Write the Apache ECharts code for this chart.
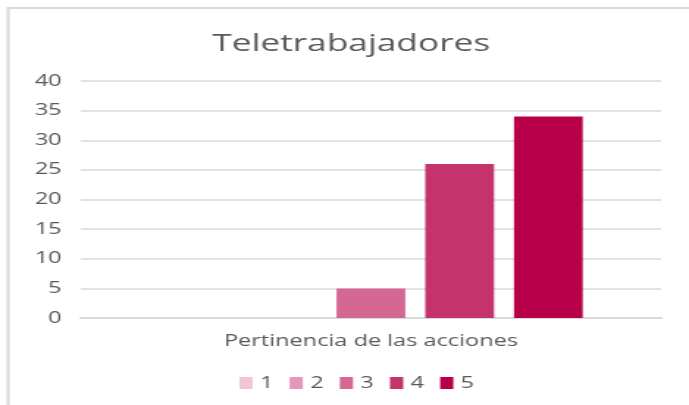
<!DOCTYPE html>
<html>
<head>
<meta charset="utf-8">
<script src="https://cdn.jsdelivr.net/npm/echarts@6/dist/echarts.min.js"></script>
<style>
  html, body { margin: 0; padding: 0; background: #fff; overflow: hidden; }
  /* The chart is laid out on a narrower canvas and widened to fill the page */
  #chart {
    width: 469px;
    height: 405px;
    transform: scaleX(1.469);
    transform-origin: 0 0;
  }
</style>
</head>
<body>
<div id="chart"></div>
<script>
// Survey answers (scale 1-5) for a single question
const categories = ['Pertinencia de las acciones'];
const seriesNames = ['1', '2', '3', '4', '5'];
const seriesValues = [0, 0, 5, 26, 34];
const seriesColors = ['#f0c6d7', '#e298b8', '#d56893', '#c4336c', '#b8004a'];
const yTicks = { min: 0, max: 40, interval: 5 };

const chart = echarts.init(document.getElementById('chart'), null, { renderer: 'canvas' });
const textColor = '#595959';
const fontFamily = '"Open Sans", "Noto Sans", sans-serif';

const series = seriesNames.map((name, i) => ({
  name: name,
  type: 'bar',
  data: [seriesValues[i]],
  barGap: '29%',
  barCategoryGap: '27%',
  itemStyle: { color: seriesColors[i] }
}));

chart.setOption({
  animation: false,
  backgroundColor: '#ffffff',
  graphic: [{
    type: 'rect',
    shape: { x: 5.5, y: 8, width: 500, height: 420 },
    style: { fill: 'none', stroke: '#d9d9d9', lineWidth: 2 },
    silent: true
  }],
  title: {
    text: 'Teletrabajadores',
    left: 139.5,
    top: 27,
    textStyle: { color: textColor, fontSize: 24, fontWeight: 'normal', fontFamily: fontFamily }
  },
  legend: {
    top: 370,
    left: 158,
    itemWidth: 9,
    itemHeight: 12,
    itemGap: 11,
    icon: 'rect',
    textStyle: { color: textColor, fontSize: 16, fontFamily: fontFamily },
    data: seriesNames
  },
  grid: { left: 55, right: 19, top: 81, bottom: 87 },
  xAxis: {
    type: 'category',
    data: categories,
    axisLine: { lineStyle: { color: '#d9d9d9', width: 2 } },
    axisTick: { show: false },
    axisLabel: { color: textColor, fontSize: 16, fontFamily: fontFamily, margin: 15 }
  },
  yAxis: {
    type: 'value',
    min: yTicks.min,
    max: yTicks.max,
    interval: yTicks.interval,
    axisLine: { show: false },
    axisTick: { show: false },
    axisLabel: { color: textColor, fontSize: 16, fontFamily: fontFamily, margin: 13 },
    splitLine: { lineStyle: { color: '#d9d9d9', width: 1.5 } }
  },
  series: series
});
</script>
</body>
</html>
